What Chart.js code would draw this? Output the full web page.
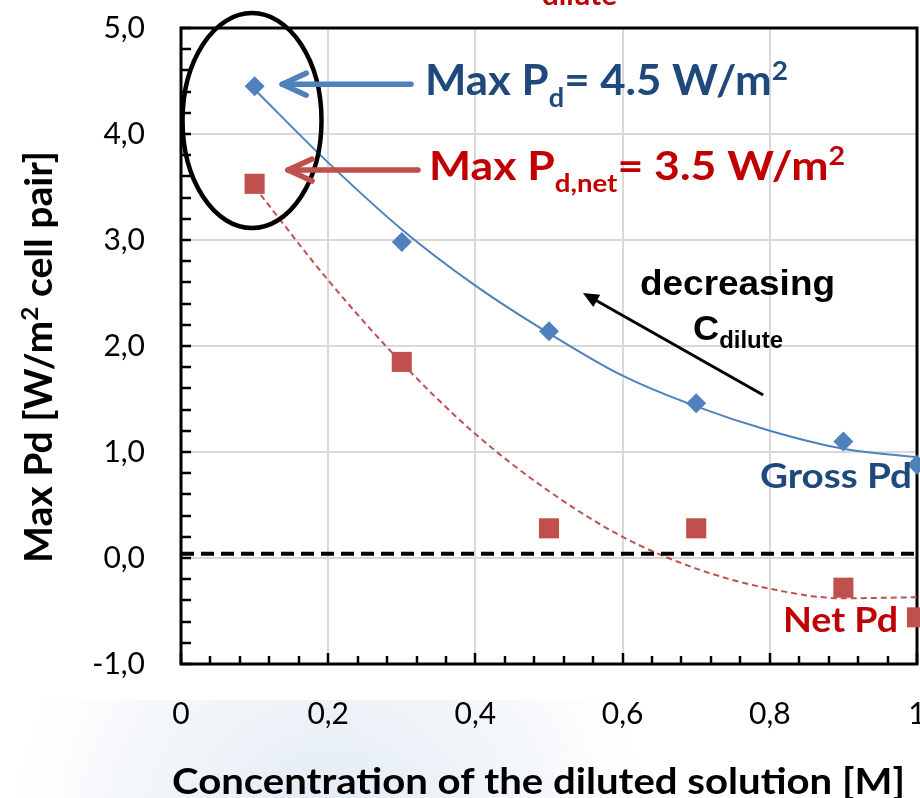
<!DOCTYPE html>
<html>
<head>
<meta charset="utf-8">
<script src="https://cdn.jsdelivr.net/npm/chart.js@4.4.0/dist/chart.umd.min.js"></script>
<style>
  html, body { margin: 0; padding: 0; background: #ffffff; }
  #wrap { width: 920px; height: 798px; }
</style>
</head>
<body>
<div id="wrap"><canvas id="c" width="920" height="798"></canvas></div>
<script>
// ---------- data ----------
const concentration = [0.1, 0.3, 0.5, 0.7, 0.9, 1.0];
const grossPd = [4.45, 2.98, 2.14, 1.46, 1.10, 0.88];
const netPd = [3.53, 1.85, 0.28, 0.28, -0.28, -0.56];

const trendX = [0.1, 0.2, 0.3, 0.4, 0.5, 0.6, 0.7, 0.8, 0.9, 1.0];
const grossTrend = [4.42, 3.73, 3.10, 2.57, 2.12, 1.72, 1.43, 1.20, 1.03, 0.95];
const netTrend = [3.50, 2.62, 1.84, 1.17, 0.63, 0.20, -0.10, -0.29, -0.38, -0.37];

const thresholdX = [0, 1];
const thresholdY = [0.04, 0.04];

const xTickLabels = ['0', '0,2', '0,4', '0,6', '0,8', '1'];
const yTickLabels = ['-1,0', '0,0', '1,0', '2,0', '3,0', '4,0', '5,0'];

const BLUE = '#4f81bd', RED = '#c0504d', DBLUE = '#1f497d', DRED = '#c00000';
const pts = (xs, ys) => xs.map((x, i) => ({ x: x, y: ys[i] }));

// plot frame in canvas pixels
const AREA = { left: 181, right: 917, top: 28, bottom: 664 };

// ---------- helpers ----------
function richText(ctx, parts, o) {
  const S = o.cap / 0.7165;
  const fam = o.family || 'Lato';
  let total = 0;
  const ws = parts.map(p => {
    ctx.font = 'bold ' + (S * (p.s || 1)) + 'px ' + fam;
    const w = ctx.measureText(p.t).width; total += w; return w;
  });
  const sx = o.width ? o.width / total : 1;
  ctx.save();
  ctx.translate(o.x, o.y);
  if (o.rot) ctx.rotate(o.rot);
  ctx.scale(sx, 1);
  ctx.fillStyle = o.color;
  ctx.textBaseline = 'alphabetic';
  ctx.textAlign = 'left';
  let cx = 0;
  parts.forEach((p, i) => {
    ctx.font = 'bold ' + (S * (p.s || 1)) + 'px ' + fam;
    ctx.fillText(p.t, cx, (p.dy || 0) * S);
    cx += ws[i];
  });
  ctx.restore();
}

function openArrow(ctx, x1, y1, x2, y2, color, lw, head, spread) {
  const a = Math.atan2(y2 - y1, x2 - x1);
  ctx.save();
  ctx.strokeStyle = color; ctx.lineWidth = lw; ctx.lineCap = 'round'; ctx.lineJoin = 'round';
  ctx.beginPath(); ctx.moveTo(x1, y1); ctx.lineTo(x2, y2); ctx.stroke();
  ctx.beginPath();
  ctx.moveTo(x2 - head * Math.cos(a) + spread * Math.sin(a), y2 - head * Math.sin(a) - spread * Math.cos(a));
  ctx.lineTo(x2, y2);
  ctx.lineTo(x2 - head * Math.cos(a) - spread * Math.sin(a), y2 - head * Math.sin(a) + spread * Math.cos(a));
  ctx.stroke();
  ctx.restore();
}

function filledArrow(ctx, x1, y1, x2, y2, color, lw, head, spread) {
  const a = Math.atan2(y2 - y1, x2 - x1);
  ctx.save();
  ctx.strokeStyle = color; ctx.fillStyle = color; ctx.lineWidth = lw;
  ctx.beginPath(); ctx.moveTo(x1, y1);
  ctx.lineTo(x2 - head * 0.8 * Math.cos(a), y2 - head * 0.8 * Math.sin(a)); ctx.stroke();
  ctx.beginPath();
  ctx.moveTo(x2, y2);
  ctx.lineTo(x2 - head * Math.cos(a) + spread * Math.sin(a), y2 - head * Math.sin(a) - spread * Math.cos(a));
  ctx.lineTo(x2 - head * Math.cos(a) - spread * Math.sin(a), y2 - head * Math.sin(a) + spread * Math.cos(a));
  ctx.closePath(); ctx.fill();
  ctx.restore();
}

// ---------- plugins ----------
const fixArea = {
  id: 'fixArea',
  afterLayout(chart) {
    const ca = chart.chartArea;
    ca.left = AREA.left; ca.right = AREA.right; ca.top = AREA.top; ca.bottom = AREA.bottom;
    ca.width = AREA.right - AREA.left; ca.height = AREA.bottom - AREA.top;
    const x = chart.scales.x, y = chart.scales.y;
    x.left = AREA.left; x.right = AREA.right; x.width = AREA.right - AREA.left;
    x.top = AREA.bottom; x.bottom = chart.height; x.height = chart.height - AREA.bottom;
    y.left = 0; y.right = AREA.left; y.width = AREA.left;
    y.top = AREA.top; y.bottom = AREA.bottom; y.height = AREA.bottom - AREA.top;
    x.configure(); y.configure();
  }
};

const background = {
  id: 'background',
  beforeDraw(chart) {
    const ctx = chart.ctx;
    ctx.save();
    ctx.fillStyle = '#ffffff';
    ctx.fillRect(0, 0, chart.width, chart.height);
    const g = ctx.createRadialGradient(330, 840, 20, 330, 840, 360);
    g.addColorStop(0, 'rgba(170,195,222,0.35)');
    g.addColorStop(0.6, 'rgba(200,215,232,0.18)');
    g.addColorStop(1, 'rgba(255,255,255,0)');
    ctx.fillStyle = g;
    ctx.fillRect(0, 700, chart.width, 98);
    ctx.restore();
  }
};

const frameTicks = {
  id: 'frameTicks',
  beforeDatasetsDraw(chart) {
    const ctx = chart.ctx, a = chart.chartArea;
    const xs = chart.scales.x, ys = chart.scales.y;
    ctx.save();
    ctx.strokeStyle = '#000'; ctx.lineWidth = 3;
    ctx.strokeRect(a.left, a.top, a.right - a.left, a.bottom - a.top);
    ctx.lineWidth = 2.5;
    ctx.beginPath();
    for (let i = 0; i <= 30; i++) {
      const py = Math.round(ys.getPixelForValue(-1 + i * 0.2));
      ctx.moveTo(a.left, py); ctx.lineTo(a.left + 10, py);
    }
    for (let i = 0; i <= 25; i++) {
      const px = Math.round(xs.getPixelForValue(i * 0.04));
      const len = (i % 5 === 0) ? 11 : 8;
      ctx.moveTo(px, a.bottom); ctx.lineTo(px, a.bottom - len);
    }
    ctx.stroke();
    ctx.restore();
  }
};

const annotations = {
  id: 'annotations',
  afterDraw(chart) {
    const ctx = chart.ctx;
    const xs = chart.scales.x, ys = chart.scales.y;
    const X = v => xs.getPixelForValue(v), Y = v => ys.getPixelForValue(v);

    // ellipse around the maxima
    ctx.save();
    ctx.strokeStyle = '#000'; ctx.lineWidth = 4.5;
    ctx.beginPath();
    ctx.ellipse(X(0.0965), Y(4.127), X(0.0944) - X(0), Y(0) - Y(1.014), 0, 0, Math.PI * 2);
    ctx.stroke();
    ctx.restore();

    // arrows
    openArrow(ctx, X(0.3125), Y(4.47), X(0.1375), Y(4.47), BLUE, 5.5, 24, 11);
    openArrow(ctx, X(0.322), Y(3.66), X(0.1454), Y(3.66), RED, 5.5, 24, 11);
    filledArrow(ctx, X(0.791), Y(1.538), X(0.546), Y(2.50), '#000', 3, 16, 7);

    // annotation texts
    richText(ctx, [
      { t: 'Max P' }, { t: 'd', s: 0.62, dy: 0.29 }, { t: '= 4.5 W/m' }, { t: '2', s: 0.64, dy: -0.36 }
    ], { x: 425, y: 95, cap: 30, width: 363, color: DBLUE });
    richText(ctx, [
      { t: 'Max P' }, { t: 'd,net', s: 0.62, dy: 0.29 }, { t: '= 3.5 W/m' }, { t: '2', s: 0.64, dy: -0.36 }
    ], { x: 429, y: 180, cap: 29, width: 416, color: DRED });

    richText(ctx, [{ t: 'decreasing' }], { x: 640, y: 295, cap: 25, width: 195, color: '#000', family: '"Liberation Sans"' });
    richText(ctx, [{ t: 'C' }, { t: 'dilute', s: 0.66, dy: 0.22 }], { x: 693, y: 340, cap: 25, width: 90, color: '#000', family: '"Liberation Sans"' });

    richText(ctx, [{ t: 'Gross Pd' }], { x: 760, y: 488, cap: 25, width: 152, color: DBLUE });
    richText(ctx, [{ t: 'Net Pd' }], { x: 783, y: 632, cap: 25, width: 115, color: DRED });

    // cropped title fragment at the very top
    richText(ctx, [{ t: 'dilute' }], { x: 542, y: 5, cap: 20, width: 75, color: DRED });

    // axis titles
    richText(ctx, [
      { t: 'Max Pd [W/m' }, { t: '2', s: 0.62, dy: -0.38 }, { t: ' cell pair]' }
    ], { x: 52, y: 563, cap: 27, width: 412, color: '#000', rot: -Math.PI / 2 });
    richText(ctx, [{ t: 'Concentration of the diluted solution [M]' }],
      { x: 172, y: 794, cap: 26, width: 733, color: '#000' });
  }
};

// ---------- chart ----------
new Chart(document.getElementById('c'), {
  type: 'scatter',
  data: {
    datasets: [
      { label: 'Gross Pd', data: pts(concentration, grossPd), pointStyle: 'rectRot', pointRadius: 10,
        backgroundColor: BLUE, borderColor: BLUE, borderWidth: 0, showLine: false, clip: false, order: 1 },
      { label: 'Net Pd', data: pts(concentration, netPd), pointStyle: 'rect', pointRadius: 14.2,
        backgroundColor: RED, borderColor: RED, borderWidth: 0, showLine: false, clip: false, order: 1 },
      { label: 'zero', data: pts(thresholdX, thresholdY), showLine: true, pointRadius: 0,
        borderColor: '#000', borderWidth: 4, borderDash: [13, 7], clip: false, order: 2 },
      { label: 'Gross trend', data: pts(trendX, grossTrend), showLine: true, pointRadius: 0,
        borderColor: BLUE, borderWidth: 2, cubicInterpolationMode: 'monotone', order: 3 },
      { label: 'Net trend', data: pts(trendX, netTrend), showLine: true, pointRadius: 0,
        borderColor: RED, borderWidth: 2, borderDash: [6, 4], cubicInterpolationMode: 'monotone', order: 3 }
    ]
  },
  options: {
    responsive: false,
    animation: false,
    devicePixelRatio: 1,
    layout: { padding: { top: 28, right: 3, left: 0, bottom: 0 } },
    plugins: { legend: { display: false }, tooltip: { enabled: false } },
    scales: {
      x: {
        type: 'linear', min: 0, max: 1, offset: false,
        grid: { color: '#d9d9d9', lineWidth: 2, drawTicks: false },
        border: { display: false },
        ticks: {
          stepSize: 0.2, padding: 32, maxRotation: 0, autoSkip: false,
          color: '#000', font: { family: 'Lato', size: 30 },
          callback: (v, i) => xTickLabels[i]
        },
        afterFit: s => { s.height = 134; s.paddingLeft = 0; s.paddingRight = 0; }
      },
      y: {
        type: 'linear', min: -1, max: 5,
        grid: { color: '#d9d9d9', lineWidth: 2, drawTicks: false },
        border: { display: false },
        ticks: {
          stepSize: 1, padding: 36, autoSkip: false,
          color: '#000', font: { family: 'Lato', size: 30 },
          callback: (v, i) => yTickLabels[i]
        },
        afterFit: s => { s.width = 181; s.paddingTop = 0; s.paddingBottom = 0; }
      }
    }
  },
  plugins: [fixArea, background, frameTicks, annotations]
});
</script>
</body>
</html>
